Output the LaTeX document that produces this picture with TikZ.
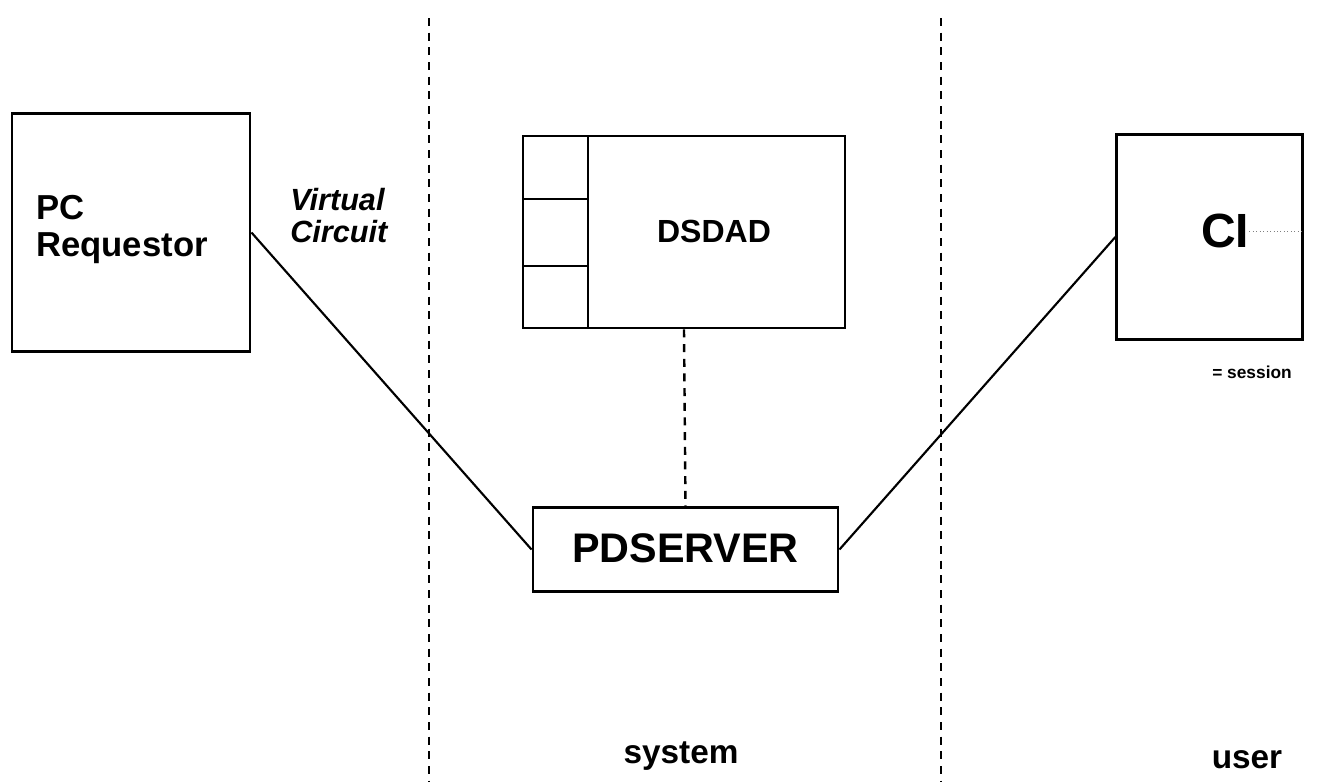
\documentclass[tikz,border=0pt]{standalone}
\usepackage{fontspec}
\setmainfont{Liberation Sans}
\begin{document}
\begin{tikzpicture}[x=0.75pt,y=-0.75pt,
  frame/.style={draw, line width=2.2pt, inner sep=0pt, rectangle},
  link/.style={line width=1.6pt},
  divider/.style={line width=2.2pt, dash pattern=on 6pt off 5pt},
  stub/.style={line width=1.8pt, dash pattern=on 6pt off 5pt},
  lbl/.style={font=\bfseries, inner sep=0pt}]
  \useasboundingbox (0,0) rectangle (1327,782);

  % domain separators
  \coordinate (d1t) at (429,18);
  \coordinate (d1b) at (429,782);
  \coordinate (d2t) at (941,18);
  \coordinate (d2b) at (941,782);
  \draw[divider] (d1t) -- (d1b);
  \draw[divider] (d2t) -- (d2b);

  % boxes
  \node[frame, minimum width=178.5pt, minimum height=179pt] (pc) at (131,232.5) {};
  \node[frame, minimum width=241.5pt, minimum height=144pt] (dsdad) at (684,232) {};
  \node[frame, minimum width=139pt, minimum height=154pt] (ci) at (1209.5,237) {};
  \node[frame, minimum width=228.75pt, minimum height=63pt] (pds) at (685.5,549.5) {};

  % queue cells of DSDAD
  \coordinate (qt) at (588,136);
  \coordinate (qb) at (588,328);
  \coordinate (q1l) at (523,199);
  \coordinate (q1r) at (588,199);
  \coordinate (q2l) at (523,266);
  \coordinate (q2r) at (588,266);
  \draw[line width=2.2pt] (qt) -- (qb);
  \draw[line width=2.2pt] (q1l) -- (q1r);
  \draw[line width=2.2pt] (q2l) -- (q2r);

  % texts
  \node[lbl, anchor=base west, font=\bfseries\fontsize{26}{30}\selectfont] (pct) at (36,219) {PC};
  \node[lbl, anchor=base west, font=\bfseries\fontsize{26}{30}\selectfont] (req) at (36,256) {Requestor};
  \node[lbl, align=left, font=\bfseries\itshape\fontsize{23}{24}\selectfont, anchor=north west] (vc) at (290,188) {Virtual\\Circuit};
  \node[lbl, font=\bfseries\fontsize{24}{28}\selectfont] (dt) at (714,231) {DSDAD};
  \node[lbl, font=\bfseries\fontsize{31}{34}\selectfont] (pt) at (685.5,548) {PDSERVER};
  \node[lbl, font=\bfseries\fontsize{36}{40}\selectfont] (cit) at (1225,231) {CI};
  \node[lbl, font=\bfseries\fontsize{13}{15}\selectfont, anchor=west] (sess) at (1212,372) {= session};
  \node[lbl, font=\bfseries\fontsize{25}{28}\selectfont, anchor=base] (sys) at (681,763) {system};
  \node[lbl, font=\bfseries\fontsize{25}{28}\selectfont, anchor=base] (usr) at (1247,768) {user};

  % connections
  \draw[link] (pc.east) -- (pds.west);
  \draw[link] (pds.east) -- (ci.west);
  \draw[stub] (dsdad.south) -- (pds.north);
  \draw[line width=0.6pt, dotted, gray] (cit.east) -- (ci.east |- cit.east);
\end{tikzpicture}
\end{document}
